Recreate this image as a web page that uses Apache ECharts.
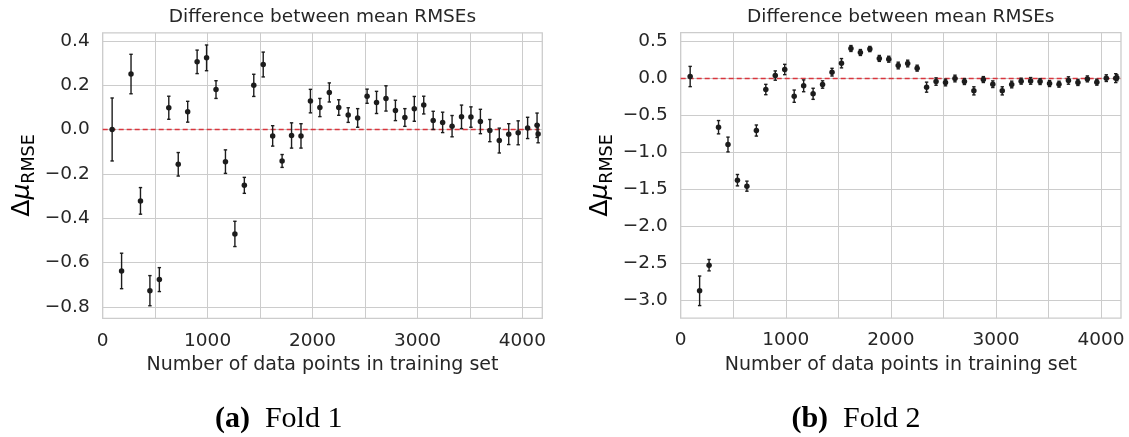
<!DOCTYPE html>
<html>
<head>
<meta charset="utf-8">
<script src="https://cdn.jsdelivr.net/npm/echarts@6/dist/echarts.min.js"></script>
<style>
html,body{margin:0;padding:0;background:#fff;}
#chart{width:1129px;height:437px;}
</style>
</head>
<body>
<div id="chart"></div>
<script>
// ---------- data ----------
const trainSizes = [90,180,270,360,450,540,630,720,810,900,990,1080,1170,1260,1350,1440,1530,1620,1710,1800,1890,1980,2070,2160,2250,2340,2430,2520,2610,2700,2790,2880,2970,3060,3150,3240,3330,3420,3510,3600,3690,3780,3870,3960,4050,4140,4150];

const fold1Mean = [0.000,-0.638,0.250,-0.322,-0.727,-0.677,0.098,-0.157,0.080,0.305,0.323,0.180,-0.145,-0.471,-0.252,0.199,0.293,-0.029,-0.142,-0.027,-0.029,0.128,0.099,0.167,0.099,0.065,0.052,0.150,0.122,0.140,0.086,0.054,0.093,0.110,0.041,0.032,0.015,0.057,0.056,0.036,-0.005,-0.050,-0.021,-0.015,0.007,0.019,-0.020];
const fold1Err  = [0.142,0.080,0.089,0.060,0.068,0.054,0.052,0.053,0.047,0.053,0.058,0.040,0.053,0.057,0.036,0.050,0.056,0.046,0.029,0.057,0.055,0.053,0.041,0.043,0.035,0.033,0.042,0.032,0.050,0.057,0.046,0.040,0.056,0.040,0.041,0.046,0.048,0.053,0.046,0.055,0.050,0.056,0.047,0.054,0.048,0.055,0.040];

const fold2Mean = [0.027,-2.873,-2.526,-0.659,-0.893,-1.376,-1.457,-0.704,-0.149,0.040,0.122,-0.239,-0.099,-0.207,-0.081,0.086,0.207,0.406,0.352,0.399,0.272,0.261,0.176,0.203,0.140,-0.117,-0.041,-0.054,0.000,-0.041,-0.167,-0.014,-0.077,-0.167,-0.081,-0.036,-0.032,-0.041,-0.068,-0.077,-0.027,-0.054,-0.005,-0.050,0.005,0.005,0.010];
const fold2Err  = [0.137,0.200,0.077,0.090,0.100,0.077,0.068,0.075,0.070,0.063,0.070,0.083,0.080,0.075,0.050,0.052,0.063,0.040,0.040,0.035,0.040,0.040,0.045,0.045,0.040,0.068,0.050,0.045,0.045,0.040,0.055,0.040,0.045,0.055,0.045,0.040,0.045,0.040,0.040,0.040,0.050,0.040,0.040,0.040,0.045,0.060,0.040];

const xTickValues = [0,500,1000,1500,2000,2500,3000,3500,4000];
const xLabelValues = [0,1000,2000,3000,4000];
const y1TickValues = [-0.8,-0.6,-0.4,-0.2,0.0,0.2,0.4];
const y2TickValues = [-3.0,-2.5,-2.0,-1.5,-1.0,-0.5,0.0,0.5];
const xRange = [0, 4190];
const zeroRef = 0;

const titleText = 'Difference between mean RMSEs';
const xName = 'Number of data points in training set';
const captions = [['(a)', 'Fold 1'], ['(b)', 'Fold 2']];

// ---------- styling ----------
const TXT = '#262626';
const GRIDC = '#cccccc';
const FONT = 'DejaVu Sans';
const DOT = '#1c1c1c';

function fmtY(v){
  if (Math.abs(v) < 1e-9) return '0.0';
  return (v < 0 ? '\u2212' : '') + Math.abs(v).toFixed(1);
}

function rows(xs, ms, es){
  return xs.map((x,i)=>[x, ms[i], es[i]]);
}

function errRender(params, api){
  const x = api.value(0), m = api.value(1), e = api.value(2);
  const a = api.coord([x, m + e]);
  const b = api.coord([x, m - e]);
  const cw = 1.7;
  const st = {stroke: DOT, lineWidth: 1.4};
  return {type:'group', children:[
    {type:'line', shape:{x1:a[0], y1:a[1], x2:b[0], y2:b[1]}, style:st},
    {type:'line', shape:{x1:a[0]-cw, y1:a[1], x2:a[0]+cw, y2:a[1]}, style:st},
    {type:'line', shape:{x1:b[0]-cw, y1:b[1], x2:b[0]+cw, y2:b[1]}, style:st}
  ]};
}

const grids = [
  {left:102.7, top:32.8, width:439.6, height:285.6},
  {left:680.7, top:32.55, width:440.3, height:285.6}
];

function xAxis(gi){
  return {
    type:'value', gridIndex:gi, min:xRange[0], max:xRange[1],
    name:xName, nameLocation:'middle', nameGap:37,
    nameTextStyle:{fontFamily:FONT, fontSize:19, color:TXT},
    axisLine:{show:false}, axisTick:{show:false, customValues:xTickValues},
    axisLabel:{customValues:xLabelValues, fontFamily:FONT, fontSize:18.5, color:TXT, margin:13,
      formatter:v=>String(v)},
    splitLine:{show:true, lineStyle:{color:GRIDC, width:1}}
  };
}
function yAxis(gi, mn, mx, ticks){
  return {
    type:'value', gridIndex:gi, min:mn, max:mx,
    axisLine:{show:false}, axisTick:{show:false, customValues:ticks},
    axisLabel:{customValues:ticks, fontFamily:FONT, fontSize:18.5, color:TXT, margin:13, formatter:fmtY},
    splitLine:{show:true, lineStyle:{color:GRIDC, width:1}}
  };
}

function seriesFor(gi, ms, es){
  return [
    {type:'line', xAxisIndex:gi, yAxisIndex:gi, data:[[xRange[0], zeroRef],[xRange[1], zeroRef]],
     symbol:'none', silent:true, z:3, clip:false,
     lineStyle:{color:'#d9363e', type:[5,3], width:1.5, opacity:1}},
    {type:'custom', xAxisIndex:gi, yAxisIndex:gi, renderItem:errRender,
     data:rows(trainSizes, ms, es), encode:{x:0, y:1}, z:4, silent:true},
    {type:'scatter', xAxisIndex:gi, yAxisIndex:gi, symbol:'circle', symbolSize:5.5,
     itemStyle:{color:DOT, opacity:1}, data:trainSizes.map((x,i)=>[x, ms[i]]), z:5, silent:true}
  ];
}

const yRich = {
  d:{fontFamily:FONT, fontSize:25, color:TXT, lineHeight:32, verticalAlign:'middle'},
  m:{fontFamily:FONT, fontSize:25, fontStyle:'italic', color:TXT, lineHeight:32, verticalAlign:'middle'},
  s:{fontFamily:FONT, fontSize:17.5, color:TXT, lineHeight:17, verticalAlign:'bottom'}
};
const capRich = {
  b:{fontFamily:'Liberation Serif', fontSize:30, fontWeight:'bold', color:'#111'},
  r:{fontFamily:'Liberation Serif', fontSize:30, color:'#111'}
};

const option = {
  animation:false,
  backgroundColor:'#ffffff',
  title:[
    {text:titleText, left:322.5, top:8, textAlign:'center', padding:0,
     textStyle:{fontFamily:FONT, fontSize:18.5, fontWeight:'normal', color:TXT}},
    {text:titleText, left:900.8, top:8, textAlign:'center', padding:0,
     textStyle:{fontFamily:FONT, fontSize:18.5, fontWeight:'normal', color:TXT}}
  ],
  grid: grids.map(g=>Object.assign({show:true, borderColor:GRIDC, borderWidth:1.3, backgroundColor:'transparent', containLabel:false, outerBoundsMode:'none'}, g)),
  xAxis:[xAxis(0), xAxis(1)],
  yAxis:[yAxis(0, -0.852, 0.436, y1TickValues), yAxis(1, -3.243, 0.622, y2TickValues)],
  series:[...seriesFor(0, fold1Mean, fold1Err), ...seriesFor(1, fold2Mean, fold2Err)],
  graphic:[
    {type:'text', x:22, y:175.5, rotation:Math.PI/2, silent:true,
     style:{text:'{d|\u0394}{m|\u03bc}{s|RMSE}', rich:yRich, align:'center', verticalAlign:'middle'}},
    {type:'text', x:600, y:175.5, rotation:Math.PI/2, silent:true,
     style:{text:'{d|\u0394}{m|\u03bc}{s|RMSE}', rich:yRich, align:'center', verticalAlign:'middle'}},
    {type:'text', x:278.7, y:419, silent:true,
     style:{text:'{b|'+captions[0][0]+'}{r|  '+captions[0][1]+'}', rich:capRich, align:'center', verticalAlign:'middle'}},
    {type:'text', x:856, y:419, silent:true,
     style:{text:'{b|'+captions[1][0]+'}{r|  '+captions[1][1]+'}', rich:capRich, align:'center', verticalAlign:'middle'}}
  ]
};

const chart = echarts.init(document.getElementById('chart'), null, {renderer:'canvas'});
chart.setOption(option);
</script>
</body>
</html>
